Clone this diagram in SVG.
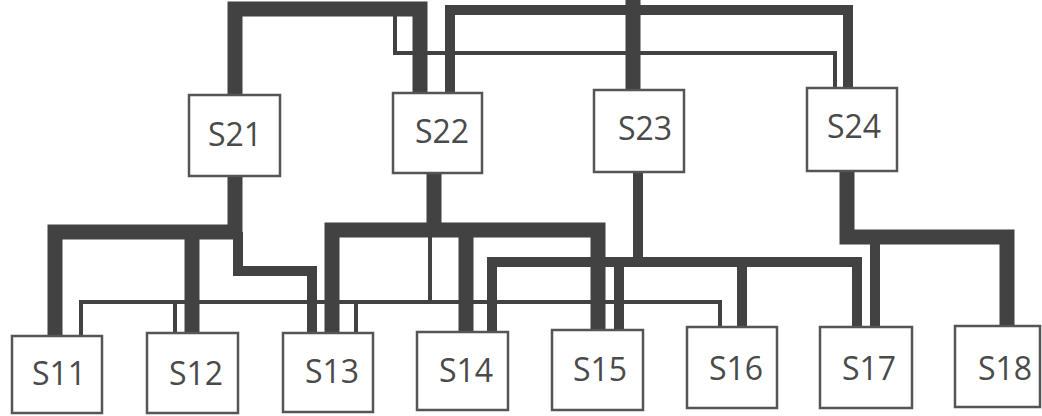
<svg xmlns="http://www.w3.org/2000/svg" width="1042" height="416" viewBox="0 0 1042 416">
<style>
.c{fill:none;stroke:#424242;stroke-linejoin:miter;stroke-linecap:butt}
.t{stroke-width:15}
.m{stroke-width:10}
.s{stroke-width:4}
.n rect{fill:#fff;stroke:#555;stroke-width:2.5}
.n text{font-family:"Open Sans","Noto Sans",sans-serif;font-size:32px;fill:#4a4a4a;text-anchor:middle}
</style>
<rect width="1042" height="416" fill="#fff"/>
<g id="connectors">
<path class="c t" d="M235,95 V9 H420 V93"/>
<path class="c m" d="M450,93 V10 H848 V88"/>
<path class="c t" d="M633,90 V0"/>
<path class="c s" d="M395,12 V53 H835 V88"/>
<path class="c t" d="M235,176 V232 H55 V336"/>
<path class="c t" d="M192,232 V333"/>
<path class="c m" d="M238,232 V271 H312 V333"/>
<path class="c s" d="M81,336 V302 H720 V327"/>
<path class="c s" d="M175,302 V333"/>
<path class="c s" d="M356,302 V333"/>
<path class="c s" d="M430,230 V302"/>
<path class="c t" d="M434,173 V230"/>
<path class="c t" d="M332,333 V230 H598 V330"/>
<path class="c t" d="M466,230 V332"/>
<path class="c m" d="M638,172 V262"/>
<path class="c m" d="M492,332 V262 H857 V327"/>
<path class="c m" d="M619,262 V330"/>
<path class="c m" d="M742,262 V327"/>
<path class="c t" d="M847,171 V237 H1007 V326"/>
<path class="c m" d="M875,237 V327"/>
</g>
<g id="S21" class="n"><rect x="189" y="95" width="91" height="81"/><text x="235" y="146">S21</text></g>
<g id="S22" class="n"><rect x="393" y="93" width="89" height="80"/><text x="442" y="143">S22</text></g>
<g id="S23" class="n"><rect x="594" y="90" width="90" height="82"/><text x="645" y="140">S23</text></g>
<g id="S24" class="n"><rect x="807" y="88" width="90" height="83"/><text x="854" y="138">S24</text></g>
<g id="S11" class="n"><rect x="12" y="336" width="90" height="77"/><text x="59" y="385">S11</text></g>
<g id="S12" class="n"><rect x="147" y="333" width="91" height="80"/><text x="196" y="385">S12</text></g>
<g id="S13" class="n"><rect x="283" y="333" width="90" height="79"/><text x="332" y="383">S13</text></g>
<g id="S14" class="n"><rect x="417" y="332" width="91" height="78"/><text x="466" y="382">S14</text></g>
<g id="S15" class="n"><rect x="552" y="330" width="91" height="80"/><text x="600" y="381">S15</text></g>
<g id="S16" class="n"><rect x="687" y="327" width="90" height="81"/><text x="736" y="380">S16</text></g>
<g id="S17" class="n"><rect x="820" y="327" width="92" height="81"/><text x="869" y="380">S17</text></g>
<g id="S18" class="n"><rect x="955" y="326" width="85" height="81"/><text x="1005" y="380">S18</text></g>
</svg>
